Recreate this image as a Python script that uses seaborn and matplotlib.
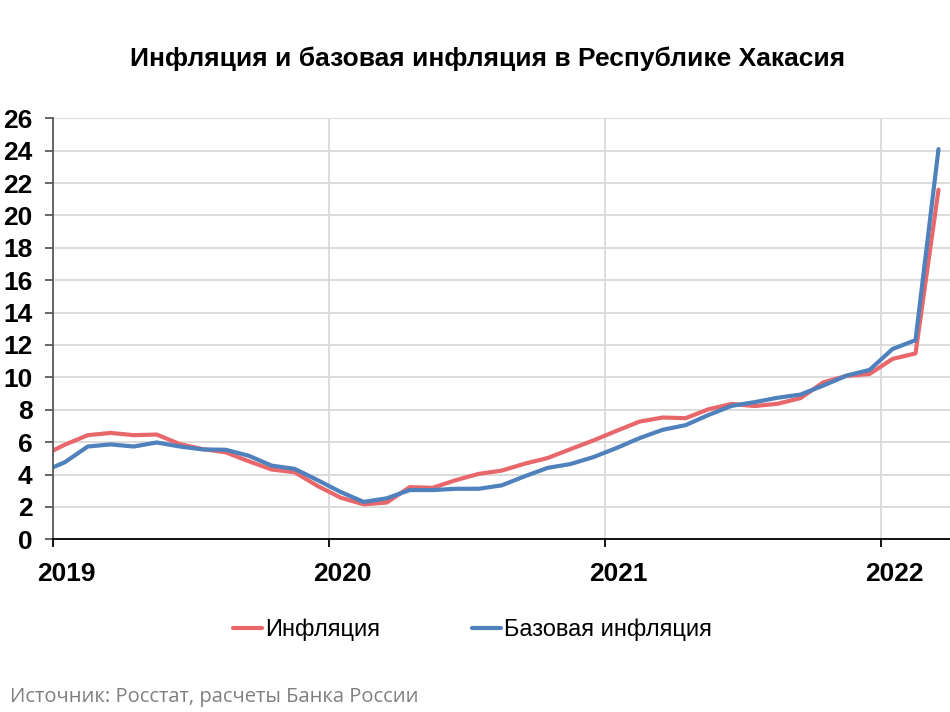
import numpy as np
import pandas as pd
import matplotlib
matplotlib.use("Agg")
import matplotlib.pyplot as plt
import seaborn as sns
from matplotlib.transforms import ScaledTranslation

# ---- data (monthly, Dec 2018 .. Mar 2022), % y/y ----
months = pd.date_range("2018-12-01", "2022-03-01", freq="MS").strftime("%Y-%m").tolist()
inflation = [5.14, 5.84, 6.43, 6.57, 6.43, 6.47, 5.88, 5.57, 5.37, 4.82, 4.31, 4.14,
             3.29, 2.57, 2.16, 2.27, 3.22, 3.18, 3.65, 4.04, 4.24, 4.67, 5.02, 5.57,
             6.11, 6.70, 7.27, 7.52, 7.48, 8.03, 8.36, 8.23, 8.37, 8.72, 9.70, 10.09,
             10.21, 11.14, 11.48, 21.59]
core = [4.14, 4.76, 5.73, 5.86, 5.73, 5.98, 5.73, 5.55, 5.53, 5.16, 4.55, 4.35,
        3.65, 2.92, 2.31, 2.53, 3.04, 3.04, 3.12, 3.12, 3.33, 3.89, 4.41, 4.65,
        5.08, 5.64, 6.25, 6.76, 7.05, 7.68, 8.24, 8.47, 8.74, 8.94, 9.50, 10.11,
        10.46, 11.75, 12.30, 24.1]
series_names = ["Инфляция", "Базовая инфляция"]
year_labels = ["2019", "2020", "2021", "2022"]
title = "Инфляция и базовая инфляция в Республике Хакасия"
source = "Источник: Росстат, расчеты Банка России"

sns.set_theme(style="white")
plt.rcParams['font.family'] = ['Liberation Sans', 'DejaVu Sans']
plt.rcParams['text.color'] = 'black'

n = len(months)
# month index -> x position at mid-month, measured in months from Jan 2019
pos = np.arange(n) - 0.5
df = pd.DataFrame({
    "pos": np.concatenate([pos, pos]),
    "value": inflation + core,
    "series": [series_names[0]] * n + [series_names[1]] * n,
})

W, H = 950, 712
fig = plt.figure(figsize=(W / 100, H / 100), dpi=100)
ax = fig.add_axes([53.3 / W, 1 - 539.3 / H, 1 - 53.3 / W, (539.3 - 118.3) / H])

palette = {series_names[0]: "#E8676B", series_names[1]: "#4F81BD"}
sns.lineplot(data=df, x="pos", y="value", hue="series", hue_order=series_names,
             palette=palette, linewidth=3.0, ax=ax, legend=True)

ax.set_xlim(0, 39)
ax.set_ylim(0, 26)
ax.set_yticks(range(0, 27, 2))
ax.set_xticks([0, 12, 24, 36])
ax.set_xticklabels(year_labels)
ax.set_xlabel("")
ax.set_ylabel("")

ax.set_axisbelow(True)
ax.grid(axis="y", color="#d9d9d9", linewidth=1.3)
ax.grid(axis="x", color="#d9d9d9", linewidth=1.3)

for s in ["top", "right"]:
    ax.spines[s].set_visible(False)
ax.spines["left"].set_color("#595959")
ax.spines["left"].set_linewidth(1.3)
ax.spines["bottom"].set_color("#000000")
ax.spines["bottom"].set_linewidth(1.3)

ax.tick_params(axis="y", direction="out", length=6, width=1.3, color="#595959",
               pad=9, labelsize=19, labelcolor="black", left=True)
ax.tick_params(axis="x", direction="out", length=6, width=1.3, color="black",
               pad=10, labelsize=19, labelcolor="black", bottom=True)
for lbl in ax.get_yticklabels() + ax.get_xticklabels():
    lbl.set_fontweight("bold")
for lbl in ax.get_xticklabels():
    lbl.set_transform(lbl.get_transform() + ScaledTranslation(13 / 100, 0, fig.dpi_scale_trans))

sns.move_legend(ax, "center", bbox_to_anchor=(0.4975, 1 - 630 / H),
                bbox_transform=fig.transFigure, ncol=2, frameon=False, title=None,
                fontsize=17, handlelength=1.2, handletextpad=0.15, columnspacing=3.9,
                labelcolor="black")

fig.text(487.5 / W, 1 - 58.5 / H, title, ha="center", va="center", fontsize=19,
         fontweight="bold", color="black")
fig.text(10 / W, 1 - 697 / H, source, ha="left", va="center", fontsize=14.5,
         color="#7f7f7f", family=["Open Sans", "DejaVu Sans"])

fig.savefig("out.png", dpi=100)
